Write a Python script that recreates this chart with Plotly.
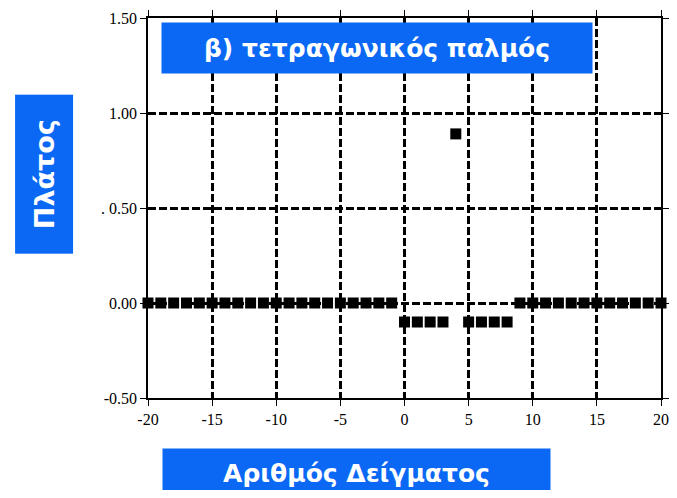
import plotly.graph_objects as go

# sample index n and amplitude x[n]
n = list(range(-20, 21))
amp = ([0.0] * 20 +
       [-0.1, -0.1, -0.1, -0.1, 0.89, -0.1, -0.1, -0.1, -0.1] +
       [0.0] * 12)

x_ticks = [-20, -15, -10, -5, 0, 5, 10, 15, 20]
x_tick_text = ["-20", "-15", "-10", "-5", "0", "5", "10", "15", "20"]
y_ticks = [-0.5, 0.0, 0.5, 1.0, 1.5]
y_tick_text = ["-0.50", "0.00", ". 0.50", "1.00", "1.50"]

title_txt = "β) τετραγωνικός παλμός"
x_title = "Αριθμός Δείγματος"
y_title = "Πλάτος"

BLUE = "#0a68f5"

fig = go.Figure()
fig.add_trace(go.Scatter(x=n, y=amp, mode="markers",
                         marker=dict(symbol="square", size=11, color="black"),
                         cliponaxis=False, showlegend=False))

axis_common = dict(showline=True, linecolor="black", linewidth=1.5,
                   mirror="ticks", ticks="outside", ticklen=6, tickcolor="black",
                   showgrid=True, gridcolor="black", gridwidth=2.5, griddash="8px,3px",
                   zeroline=False, automargin=False,
                   tickfont=dict(family="Liberation Serif", size=16, color="black"))

fig.update_xaxes(range=[-20, 20], tickvals=x_ticks, ticktext=x_tick_text, **axis_common)
fig.update_yaxes(range=[-0.5, 1.5], tickvals=y_ticks, ticktext=y_tick_text, **axis_common)

# (centre x, centre y, width px, height px, text, angle, font size)
boxes = [
    (0.447, 0.92, 430, 50, title_txt, 0, 25),
    (-0.202, 0.59, 158, 57, y_title, -90, 27),
    (0.407, -0.199, 387, 49, x_title, 0, 25),
]
for cx, cy, w, h, txt, ang, fs in boxes:
    fig.add_annotation(xref="paper", yref="paper", x=cx, y=cy,
                       xanchor="center", yanchor="middle",
                       width=w, height=h, bgcolor=BLUE, borderpad=0,
                       text="<b>%s</b>" % txt, showarrow=False, textangle=ang,
                       font=dict(family="DejaVu Sans", size=fs, color="white"))

# page body has an 8px margin; keep the figure inside the 677x498 window
fig.update_layout(width=661, height=482,
                  margin=dict(l=140, r=8, t=10, b=92),
                  plot_bgcolor="white", paper_bgcolor="white")

fig.write_html("out.html")
